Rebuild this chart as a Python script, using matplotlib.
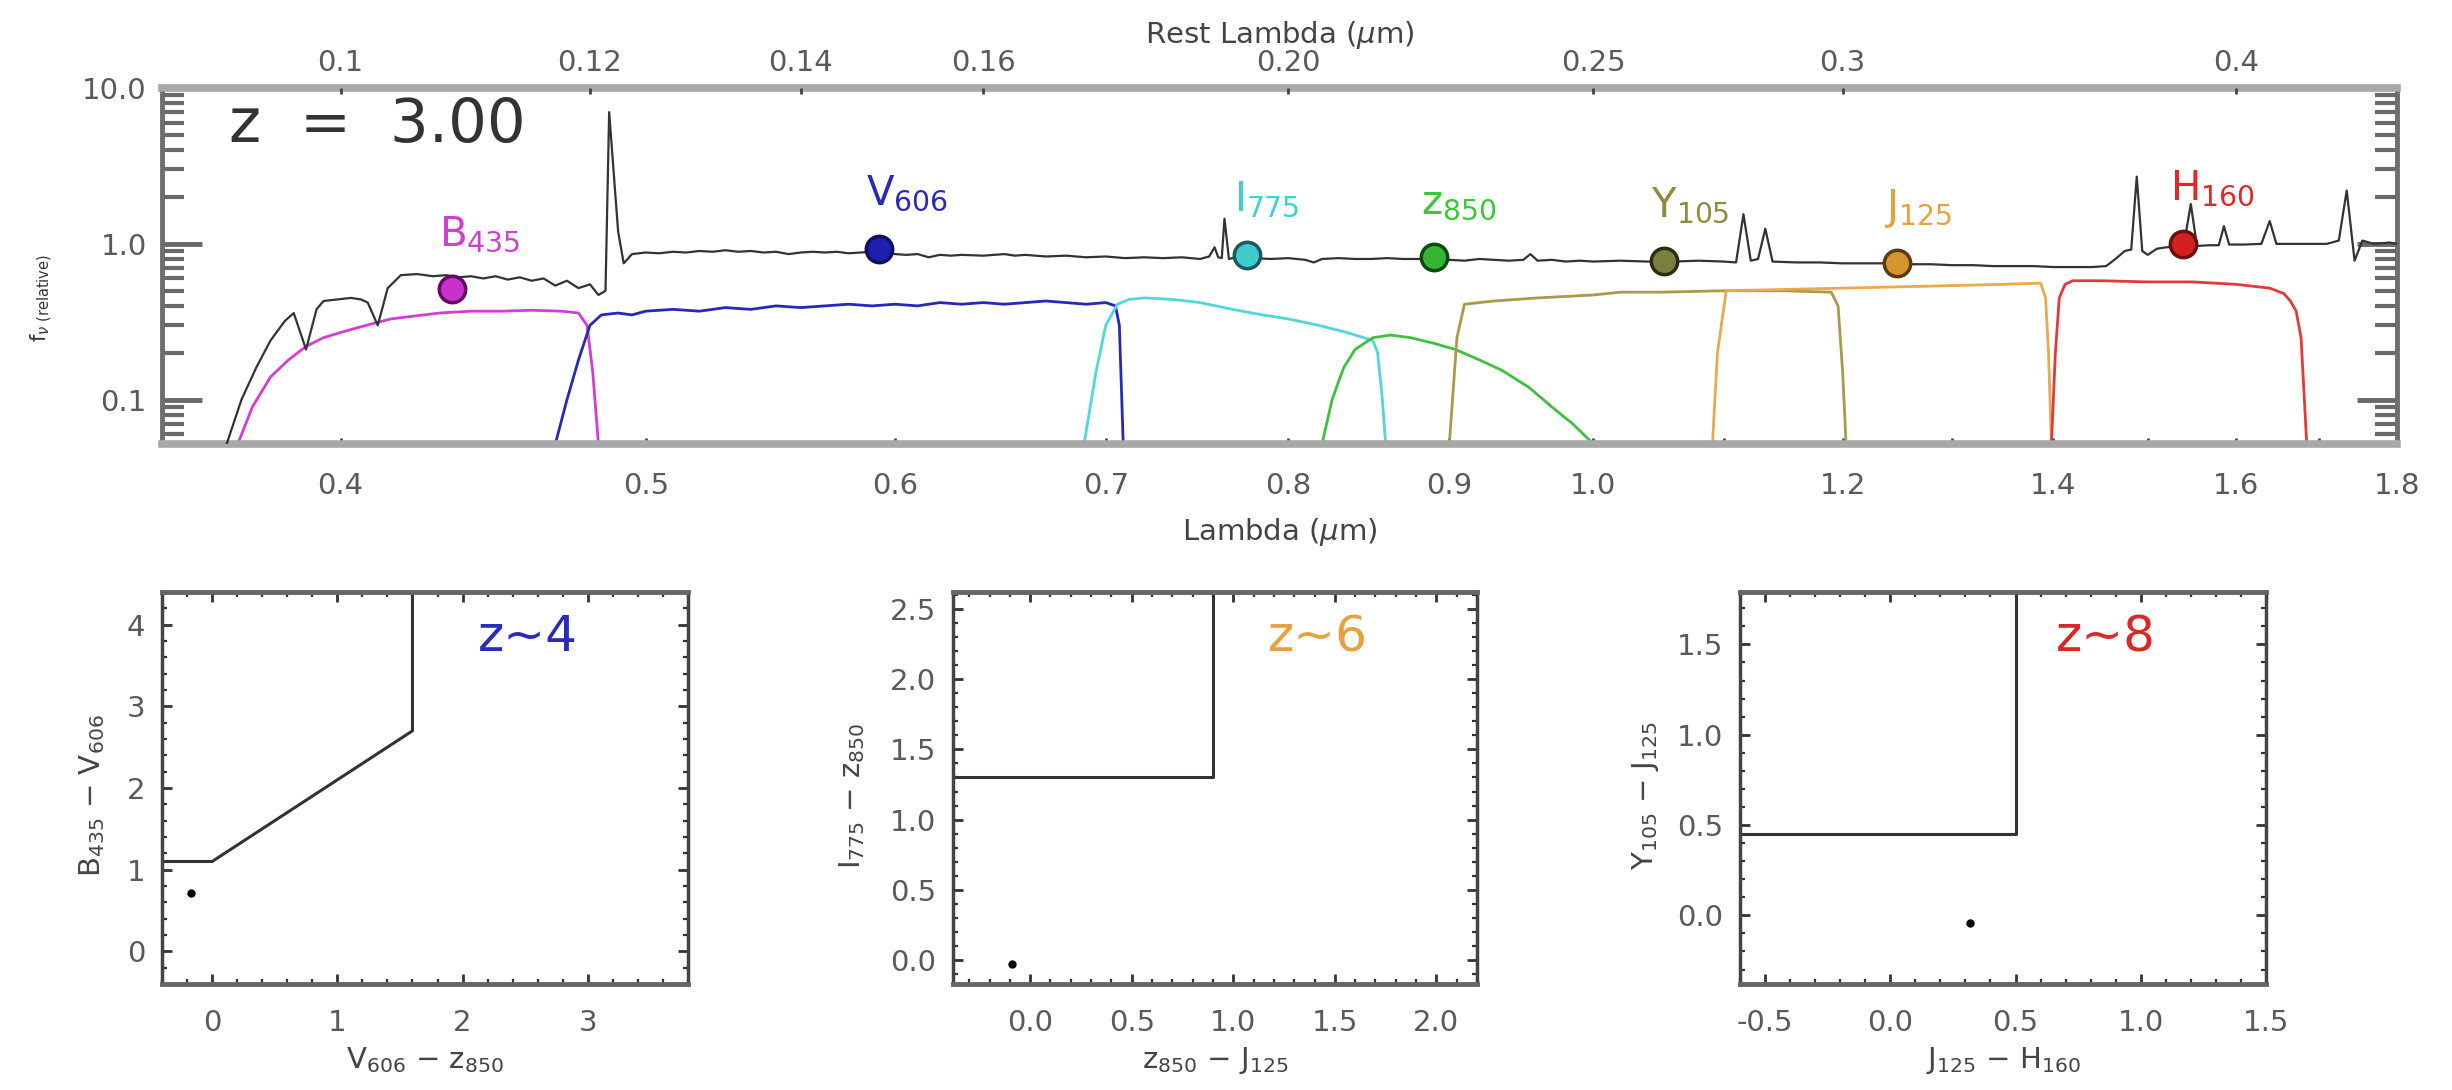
import matplotlib
matplotlib.use('Agg')
import matplotlib.pyplot as plt
from matplotlib.ticker import FixedLocator, NullLocator, NullFormatter, AutoMinorLocator, LogLocator

plt.rcParams['font.family'] = ['DejaVu Sans']
plt.rcParams['mathtext.fontset'] = 'dejavusans'
plt.rcParams['axes.unicode_minus'] = False

# ---------------- data ----------------
redshift = 3.00

spec_lam = [0.368, 0.372, 0.376, 0.380, 0.384, 0.3865, 0.390, 0.393, 0.395, 0.399, 0.403, 0.406,
            0.408, 0.411, 0.414, 0.418, 0.423, 0.428, 0.432, 0.436, 0.440, 0.444, 0.448, 0.452,
            0.456, 0.460, 0.464, 0.468, 0.472, 0.476, 0.480, 0.483, 0.4855, 0.4868, 0.490, 0.492,
            0.495, 0.500, 0.505, 0.510, 0.515, 0.520, 0.525, 0.530, 0.535, 0.540, 0.545, 0.550,
            0.555, 0.560, 0.565, 0.570, 0.575, 0.580, 0.585, 0.590, 0.595, 0.600, 0.605, 0.610,
            0.615, 0.620, 0.625, 0.630, 0.640, 0.650, 0.655, 0.660, 0.670, 0.680, 0.690, 0.700,
            0.710, 0.720, 0.730, 0.740, 0.750, 0.755, 0.758, 0.760, 0.762, 0.7635, 0.766, 0.770,
            0.780, 0.790, 0.800, 0.810, 0.815, 0.820, 0.830, 0.840, 0.850, 0.860, 0.870, 0.880,
            0.890, 0.900, 0.910, 0.920, 0.930, 0.940, 0.950, 0.955, 0.960, 0.970, 0.980, 0.990,
            1.000, 1.020, 1.040, 1.060, 1.080, 1.100, 1.110, 1.116, 1.122, 1.128, 1.134, 1.140,
            1.160, 1.180, 1.200, 1.220, 1.240, 1.260, 1.280, 1.300, 1.320, 1.340, 1.360, 1.380,
            1.400, 1.420, 1.440, 1.455, 1.465, 1.475, 1.482, 1.488, 1.494, 1.500, 1.510, 1.520,
            1.530, 1.540, 1.548, 1.555, 1.570, 1.580, 1.586, 1.592, 1.610, 1.630, 1.640, 1.648,
            1.670, 1.690, 1.710, 1.725, 1.735, 1.745, 1.755, 1.770, 1.790, 1.800]
spec_flux = [0.052, 0.10, 0.16, 0.24, 0.32, 0.36, 0.21, 0.38, 0.43, 0.44, 0.45, 0.44,
             0.42, 0.30, 0.52, 0.63, 0.64, 0.62, 0.63, 0.61, 0.62, 0.60, 0.62, 0.59,
             0.61, 0.58, 0.60, 0.54, 0.58, 0.52, 0.55, 0.47, 0.50, 7.0, 1.2, 0.75,
             0.86, 0.88, 0.87, 0.89, 0.88, 0.90, 0.89, 0.91, 0.89, 0.90, 0.88, 0.89,
             0.86, 0.88, 0.89, 0.88, 0.89, 0.87, 0.88, 0.89, 0.88, 0.86, 0.85, 0.86,
             0.82, 0.85, 0.84, 0.85, 0.84, 0.86, 0.84, 0.85, 0.83, 0.84, 0.82, 0.83,
             0.81, 0.82, 0.81, 0.82, 0.80, 0.83, 0.95, 0.82, 0.81, 1.45, 0.80, 0.82,
             0.81, 0.80, 0.81, 0.79, 0.76, 0.80, 0.81, 0.80, 0.80, 0.81, 0.80, 0.80,
             0.79, 0.79, 0.78, 0.80, 0.79, 0.78, 0.79, 0.86, 0.78, 0.79, 0.77, 0.78,
             0.77, 0.78, 0.77, 0.77, 0.78, 0.77, 0.76, 1.55, 0.78, 0.80, 1.25, 0.77,
             0.76, 0.76, 0.75, 0.75, 0.75, 0.74, 0.74, 0.73, 0.73, 0.72, 0.72, 0.72,
             0.71, 0.71, 0.71, 0.72, 0.80, 0.90, 0.92, 2.7, 0.90, 0.85, 0.93, 0.95,
             0.96, 0.97, 1.8, 0.97, 0.98, 0.98, 1.3, 0.99, 0.99, 1.0, 1.4, 1.0,
             1.0, 1.0, 1.0, 1.05, 2.2, 0.78, 1.05, 1.0, 1.02, 1.0]

B435_lam = [0.371, 0.375, 0.380, 0.385, 0.390, 0.395, 0.400, 0.405, 0.410, 0.415, 0.420, 0.425,
            0.430, 0.440, 0.450, 0.460, 0.470, 0.476, 0.479, 0.481, 0.483]
B435_thr = [0.052, 0.09, 0.14, 0.18, 0.22, 0.25, 0.27, 0.29, 0.31, 0.33, 0.34, 0.35,
            0.36, 0.37, 0.37, 0.375, 0.37, 0.36, 0.30, 0.15, 0.052]
V606_lam = [0.468, 0.472, 0.476, 0.480, 0.484, 0.490, 0.495, 0.500, 0.510, 0.520, 0.530, 0.540,
            0.550, 0.560, 0.570, 0.580, 0.590, 0.600, 0.610, 0.620, 0.630, 0.640, 0.650, 0.660,
            0.670, 0.680, 0.690, 0.700, 0.705, 0.707, 0.709]
V606_thr = [0.052, 0.10, 0.18, 0.30, 0.35, 0.36, 0.35, 0.37, 0.38, 0.37, 0.39, 0.38,
            0.40, 0.39, 0.40, 0.41, 0.40, 0.41, 0.40, 0.42, 0.41, 0.42, 0.41, 0.42,
            0.43, 0.42, 0.41, 0.42, 0.40, 0.30, 0.052]
I775_lam = [0.689, 0.695, 0.700, 0.706, 0.712, 0.720, 0.735, 0.750, 0.768, 0.785, 0.800, 0.818,
            0.835, 0.851, 0.854, 0.857, 0.859]
I775_thr = [0.052, 0.15, 0.30, 0.41, 0.44, 0.45, 0.44, 0.42, 0.38, 0.35, 0.33, 0.30,
            0.27, 0.24, 0.20, 0.10, 0.052]
z850_lam = [0.820, 0.826, 0.833, 0.840, 0.851, 0.862, 0.875, 0.890, 0.904, 0.920, 0.935, 0.954,
            0.970, 0.985, 1.000]
z850_thr = [0.052, 0.10, 0.16, 0.21, 0.25, 0.26, 0.25, 0.23, 0.21, 0.18, 0.155, 0.12,
            0.09, 0.07, 0.052]
Y105_lam = [0.900, 0.905, 0.910, 0.930, 0.960, 1.000, 1.020, 1.050, 1.100, 1.150, 1.190, 1.196,
            1.200, 1.203]
Y105_thr = [0.052, 0.25, 0.41, 0.43, 0.45, 0.47, 0.49, 0.49, 0.50, 0.50, 0.49, 0.40,
            0.15, 0.052]
J125_lam = [1.091, 1.095, 1.102, 1.150, 1.200, 1.250, 1.300, 1.350, 1.387, 1.392, 1.395, 1.398]
J125_thr = [0.052, 0.20, 0.50, 0.51, 0.52, 0.53, 0.54, 0.55, 0.56, 0.45, 0.20, 0.052]
H160_lam = [1.398, 1.402, 1.406, 1.412, 1.420, 1.450, 1.500, 1.550, 1.600, 1.640, 1.657, 1.665,
            1.672, 1.678, 1.685]
H160_thr = [0.052, 0.20, 0.45, 0.55, 0.58, 0.58, 0.57, 0.57, 0.55, 0.52, 0.48, 0.43,
            0.37, 0.25, 0.052]

filter_labels = ['B$_{435}$', 'V$_{606}$', 'I$_{775}$', 'z$_{850}$', 'Y$_{105}$', 'J$_{125}$', 'H$_{160}$']
phot_lam = [0.434, 0.593, 0.776, 0.890, 1.053, 1.249, 1.539]
phot_flux = [0.51, 0.93, 0.85, 0.82, 0.78, 0.75, 1.00]

obs_ticks = [0.4, 0.5, 0.6, 0.7, 0.8, 0.9, 1.0, 1.2, 1.4, 1.6, 1.8]
obs_ticklabels = ['0.4', '0.5', '0.6', '0.7', '0.8', '0.9', '1.0', '1.2', '1.4', '1.6', '1.8']
obs_minor_ticks = [1.1, 1.3, 1.5, 1.7]
rest_ticks = [0.10, 0.12, 0.14, 0.16, 0.20, 0.25, 0.30, 0.40]
rest_ticklabels = ['0.1', '0.12', '0.14', '0.16', '0.20', '0.25', '0.3', '0.4']
flux_ticks = [0.1, 1.0, 10.0]
flux_ticklabels = ['0.1', '1.0', '10.0']

# colour-colour panels
z4_cut_x = [-0.4, 0.0, 1.6, 1.6]
z4_cut_y = [1.1, 1.1, 2.7, 4.4]
z4_pt_x = [-0.17]
z4_pt_y = [0.71]
z6_cut_x = [-0.4, 0.9, 0.9]
z6_cut_y = [1.3, 1.3, 2.62]
z6_pt_x = [-0.09]
z6_pt_y = [-0.03]
z8_cut_x = [-0.6, 0.5, 0.5]
z8_cut_y = [0.45, 0.45, 1.8]
z8_pt_x = [0.32]
z8_pt_y = [-0.04]

z4_xticks = [0, 1, 2, 3]
z4_yticks = [0, 1, 2, 3, 4]
z6_xticks = [0.0, 0.5, 1.0, 1.5, 2.0]
z6_yticks = [0.0, 0.5, 1.0, 1.5, 2.0, 2.5]
z8_xticks = [-0.5, 0.0, 0.5, 1.0, 1.5]
z8_yticks = [0.0, 0.5, 1.0, 1.5]

# ---------------- styles ----------------
W, H = 2452, 1090
fig = plt.figure(figsize=(W / 100, H / 100), dpi=100)

tick_col = '#5a5a5a'
lab_col = '#444444'
fs_tick = 21

filt_line_cols = ['#d43cd4', '#2828b8', '#50d8d8', '#40c040', '#a89a48', '#eaa850', '#e03a3a']
mk_face = ['#c832c8', '#1e1eb0', '#40cccc', '#36b436', '#77803c', '#d69430', '#d42020']
mk_edge = ['#6a006a', '#10105a', '#1a5a5a', '#0c4a0c', '#2c2c10', '#5a3a10', '#6a1010']
lab_cols = ['#d040d0', '#2a2ab8', '#40d0d0', '#38c838', '#8c8c3c', '#e8a040', '#e02828']

# ---------------- top panel ----------------
ax = fig.add_axes([162 / W, 1 - 444 / H, (2397 - 162) / W, (444 - 88) / H])
ax.set_xscale('log')
ax.set_yscale('log')
xlim = (0.351, 1.8)
ax.set_xlim(*xlim)
ax.set_ylim(0.052, 10.0)

filters = [(B435_lam, B435_thr), (V606_lam, V606_thr), (I775_lam, I775_thr), (z850_lam, z850_thr),
           (Y105_lam, Y105_thr), (J125_lam, J125_thr), (H160_lam, H160_thr)]
for (fl, ft), c in zip(filters, filt_line_cols):
    ax.plot(fl, ft, color=c, lw=2.0, zorder=2)

ax.plot(spec_lam, spec_flux, color='#333333', lw=1.6, zorder=3)

for i in range(len(phot_lam)):
    ax.plot(phot_lam[i], phot_flux[i], 'o', ms=19, mfc=mk_face[i], mec=mk_edge[i], mew=2.5, zorder=4)
    ax.annotate(filter_labels[i], (phot_lam[i], phot_flux[i]), xytext=(-13, 44),
                textcoords='offset pixels', ha='left', va='baseline', fontsize=29,
                color=lab_cols[i], zorder=5)

ax.text(0.030, 0.895, 'z  =  3.00', transform=ax.transAxes, ha='left', va='center',
        fontsize=44, color='#333333')

ax.xaxis.set_major_locator(FixedLocator(obs_ticks))
ax.set_xticklabels(obs_ticklabels)
ax.xaxis.set_minor_locator(FixedLocator(obs_minor_ticks))
ax.xaxis.set_minor_formatter(NullFormatter())
ax.yaxis.set_major_locator(FixedLocator(flux_ticks))
ax.set_yticklabels(flux_ticklabels)
ax.yaxis.set_minor_locator(LogLocator(base=10, subs=[2, 3, 4, 5, 6, 7, 8, 9]))
ax.yaxis.set_minor_formatter(NullFormatter())

ax.tick_params(axis='x', which='both', direction='in', top=False, bottom=True, length=4,
               width=2, color='#444444', labelsize=fs_tick, labelcolor=tick_col, pad=20)
ax.tick_params(axis='y', which='major', direction='in', left=True, right=True, length=29,
               width=3.5, color='#6a6a6a', labelsize=fs_tick, labelcolor=tick_col, pad=11)
ax.tick_params(axis='y', which='minor', direction='in', left=True, right=True, length=16,
               width=3, color='#6a6a6a')
for s in ['top', 'bottom']:
    ax.spines[s].set_color('#a8a8a8')
    ax.spines[s].set_linewidth(5.5)
for s in ['left', 'right']:
    ax.spines[s].set_color('#6e6e6e')
    ax.spines[s].set_linewidth(3.5)

ax.set_xlabel(r'Lambda ($\mu$m)', fontsize=fs_tick, color=lab_col, labelpad=12)
ax.set_ylabel(r'f$_{\nu\ \mathrm{(relative)}}$', fontsize=15, color='#333333')
ax.yaxis.set_label_coords(-0.048, 0.41)

axt = ax.twiny()
axt.set_xscale('log')
axt.set_xlim(xlim[0] / (1 + redshift), xlim[1] / (1 + redshift))
axt.xaxis.set_major_locator(FixedLocator(rest_ticks))
axt.set_xticklabels(rest_ticklabels)
axt.xaxis.set_minor_locator(NullLocator())
axt.tick_params(axis='x', which='both', direction='in', top=True, bottom=False, length=4,
                width=2, color='#444444', labelsize=fs_tick, labelcolor=tick_col, pad=8)
for s in axt.spines.values():
    s.set_visible(False)
axt.set_xlabel(r'Rest Lambda ($\mu$m)', fontsize=fs_tick, color=lab_col, labelpad=4)

# ---------------- colour-colour panels ----------------
panel_specs = [
    dict(left=162, width=526, xlim=(-0.4, 3.8), ylim=(-0.4, 4.4), xt=z4_xticks, yt=z4_yticks,
         xtl=['0', '1', '2', '3'], ytl=['0', '1', '2', '3', '4'],
         cx=z4_cut_x, cy=z4_cut_y, px=z4_pt_x, py=z4_pt_y,
         xl='V$_{606}$ $-$ z$_{850}$', yl='B$_{435}$ $-$ V$_{606}$',
         tag='z~4', tagc='#2a2ac0', ylx=-0.105),
    dict(left=953, width=524, xlim=(-0.38, 2.2), ylim=(-0.17, 2.62), xt=z6_xticks, yt=z6_yticks,
         xtl=['0.0', '0.5', '1.0', '1.5', '2.0'], ytl=['0.0', '0.5', '1.0', '1.5', '2.0', '2.5'],
         cx=z6_cut_x, cy=z6_cut_y, px=z6_pt_x, py=z6_pt_y,
         xl='z$_{850}$ $-$ J$_{125}$', yl='I$_{775}$ $-$ z$_{850}$',
         tag='z~6', tagc='#e8a040', ylx=-0.165),
    dict(left=1740, width=526, xlim=(-0.6, 1.5), ylim=(-0.38, 1.79), xt=z8_xticks, yt=z8_yticks,
         xtl=['-0.5', '0.0', '0.5', '1.0', '1.5'], ytl=['0.0', '0.5', '1.0', '1.5'],
         cx=z8_cut_x, cy=z8_cut_y, px=z8_pt_x, py=z8_pt_y,
         xl='J$_{125}$ $-$ H$_{160}$', yl='Y$_{105}$ $-$ J$_{125}$',
         tag='z~8', tagc='#d82828', ylx=-0.15),
]

for p in panel_specs:
    a = fig.add_axes([p['left'] / W, 1 - 984 / H, p['width'] / W, (984 - 592) / H])
    a.set_xlim(*p['xlim'])
    a.set_ylim(*p['ylim'])
    a.plot(p['cx'], p['cy'], color='#333333', lw=2.2, clip_on=True)
    a.plot(p['px'], p['py'], 'o', color='black', ms=5)
    a.set_xticks(p['xt'])
    a.set_xticklabels(p['xtl'])
    a.set_yticks(p['yt'])
    a.set_yticklabels(p['ytl'])
    a.xaxis.set_minor_locator(AutoMinorLocator(5))
    a.yaxis.set_minor_locator(AutoMinorLocator(5))
    a.tick_params(axis='x', which='major', direction='in', top=True, length=7, width=2,
                  color='#333333', labelsize=fs_tick, labelcolor=tick_col, pad=18)
    a.tick_params(axis='y', which='major', direction='in', right=True, length=7, width=2,
                  color='#333333', labelsize=fs_tick, labelcolor=tick_col, pad=12)
    a.tick_params(which='minor', direction='in', top=True, right=True, length=3.5, width=1.6,
                  color='#333333')
    for s in ['top', 'bottom']:
        a.spines[s].set_color('#666666')
        a.spines[s].set_linewidth(3.5)
    for s in ['left', 'right']:
        a.spines[s].set_color('#444444')
        a.spines[s].set_linewidth(2.5)
    a.set_xlabel(p['xl'], fontsize=fs_tick, color=lab_col)
    a.xaxis.set_label_coords(0.5, -0.155)
    a.set_ylabel(p['yl'], fontsize=fs_tick, color=lab_col)
    a.yaxis.set_label_coords(p['ylx'], 0.48)
    a.text(0.60, 0.885, p['tag'], transform=a.transAxes, ha='left', va='center',
           fontsize=36, color=p['tagc'])

fig.savefig('out.png', dpi=100, facecolor='white')
